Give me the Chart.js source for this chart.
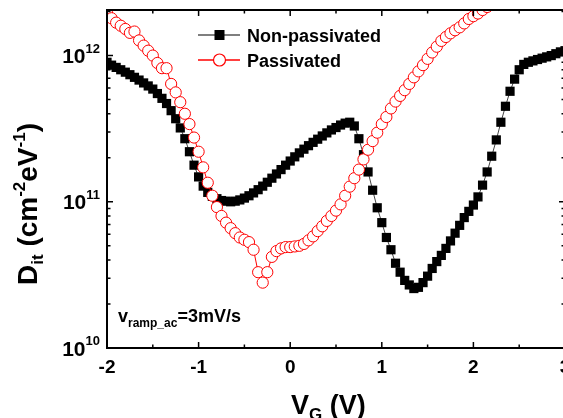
<!DOCTYPE html>
<html>
<head>
<meta charset="utf-8">
<script src="https://cdn.jsdelivr.net/npm/chart.js@4"></script>
<style>
  html, body { margin: 0; padding: 0; background: #fff; overflow: hidden; }
</style>
</head>
<body>
<canvas id="grafico" width="580" height="418"></canvas>
<script>
// gate voltage (V)
const vg = [
  -2.00, -1.95, -1.90, -1.85, -1.80, -1.75, -1.70, -1.65, -1.60, -1.55,
  -1.50, -1.45, -1.40, -1.35, -1.30, -1.25, -1.20, -1.15, -1.10, -1.05,
  -1.00, -0.95, -0.90, -0.85, -0.80, -0.75, -0.70, -0.65, -0.60, -0.55,
  -0.50, -0.45, -0.40, -0.35, -0.30, -0.25, -0.20, -0.15, -0.10, -0.05,
   0.00,  0.05,  0.10,  0.15,  0.20,  0.25,  0.30,  0.35,  0.40,  0.45,
   0.50,  0.55,  0.60,  0.65,  0.70,  0.75,  0.80,  0.85,  0.90,  0.95,
   1.00,  1.05,  1.10,  1.15,  1.20,  1.25,  1.30,  1.35,  1.40,  1.45,
   1.50,  1.55,  1.60,  1.65,  1.70,  1.75,  1.80,  1.85,  1.90,  1.95,
   2.00,  2.05,  2.10,  2.15,  2.20,  2.25,  2.30,  2.35,  2.40,  2.45,
   2.50,  2.55,  2.60,  2.65,  2.70,  2.75,  2.80,  2.85,  2.90,  2.95,
   3.00
];

// Dit (cm^-2 eV^-1), non-passivated
const ditNonPassivated = [
  9.0e11, 8.6e11, 8.3e11, 8.0e11, 7.7e11, 7.4e11, 7.1e11, 6.8e11, 6.5e11, 6.2e11,
  5.9e11, 5.5e11, 5.1e11, 4.7e11, 4.2e11, 3.7e11, 3.2e11, 2.7e11, 2.2e11, 1.78e11,
  1.48e11, 1.28e11, 1.16e11, 1.09e11, 1.05e11, 1.02e11, 1.01e11, 1.0e11, 1.01e11, 1.03e11,
  1.06e11, 1.1e11, 1.15e11, 1.21e11, 1.28e11, 1.36e11, 1.45e11, 1.55e11, 1.66e11, 1.78e11,
  1.9e11, 2.03e11, 2.16e11, 2.29e11, 2.42e11, 2.55e11, 2.68e11, 2.82e11, 2.96e11, 3.1e11,
  3.22e11, 3.35e11, 3.45e11, 3.5e11, 3.3e11, 2.7e11, 2.1e11, 1.6e11, 1.2e11, 9.1e10,
  7.2e10, 5.7e10, 4.7e10, 3.8e10, 3.3e10, 2.9e10, 2.7e10, 2.55e10, 2.6e10, 2.8e10,
  3.1e10, 3.5e10, 3.9e10, 4.3e10, 4.8e10, 5.4e10, 6.1e10, 6.9e10, 7.8e10, 8.6e10,
  9.5e10, 1.08e11, 1.3e11, 1.6e11, 2.05e11, 2.65e11, 3.5e11, 4.5e11, 5.7e11, 6.9e11,
  8.0e11, 8.7e11, 9.0e11, 9.2e11, 9.4e11, 9.6e11, 9.8e11, 1.0e12, 1.03e12, 1.06e12,
  1.08e12
];

// Dit (cm^-2 eV^-1), passivated (goes off the top after ~2.1 V)
const ditPassivated = [
  1.95e12, 1.8e12, 1.68e12, 1.6e12, 1.52e12, 1.43e12, 1.46e12, 1.27e12, 1.17e12, 1.08e12,
  1.0e12, 8.9e11, 8.2e11, 8.2e11, 6.4e11, 5.6e11, 4.8e11, 4.0e11, 3.4e11, 2.75e11,
  2.2e11, 1.72e11, 1.35e11, 1.1e11, 9.2e10, 8.0e10, 7.2e10, 6.6e10, 6.1e10, 5.7e10,
  5.5e10, 5.3e10, 4.7e10, 3.3e10, 2.8e10, 3.3e10, 4.2e10, 4.6e10, 4.8e10, 4.9e10,
  4.9e10, 4.95e10, 5.0e10, 5.15e10, 5.45e10, 5.8e10, 6.3e10, 6.8e10, 7.4e10, 8.0e10,
  8.7e10, 9.6e10, 1.1e11, 1.27e11, 1.45e11, 1.66e11, 1.95e11, 2.27e11, 2.6e11, 2.97e11,
  3.4e11, 3.8e11, 4.35e11, 4.85e11, 5.3e11, 5.8e11, 6.4e11, 7.1e11, 7.8e11, 8.6e11,
  9.5e11, 1.05e12, 1.15e12, 1.26e12, 1.34e12, 1.42e12, 1.49e12, 1.56e12, 1.66e12, 1.78e12,
  1.86e12, 1.94e12, 2.05e12, 2.15e12, 2.25e12
];

const seriesNames = ['Non-passivated', 'Passivated'];
const xTicks = [-2, -1, 0, 1, 2, 3];
const yMajor = [1e10, 1e11, 1e12];

const FONT = '"Liberation Sans", Arial, sans-serif';

function pares(xs, ys) {
  return ys.map((v, i) => ({ x: xs[i], y: v }));
}

// texto com partes sub/sobrescritas: [texto, tamanho, deslocamento]
function desenhaPartes(ctx, partes, x, y) {
  let cx = x;
  for (const [t, size, dy] of partes) {
    ctx.font = 'bold ' + size + 'px ' + FONT;
    ctx.fillText(t, cx, y + dy);
    cx += ctx.measureText(t).width;
  }
}

const moldura = {
  id: 'moldura',
  afterDraw(chart) {
    const { ctx, chartArea: a, scales: { x, y } } = chart;
    ctx.save();
    ctx.strokeStyle = '#000';
    ctx.fillStyle = '#000';

    // ticks (inward, all four sides)
    ctx.lineWidth = 1.5;
    ctx.beginPath();
    for (let v = -2; v <= 3.001; v += 0.5) {
      const px = x.getPixelForValue(v);
      const len = Math.abs(v - Math.round(v)) < 0.01 ? 6 : 3.5;
      ctx.moveTo(px, a.bottom); ctx.lineTo(px, a.bottom - len);
      ctx.moveTo(px, a.top); ctx.lineTo(px, a.top + len);
    }
    for (let e = 10; e <= 12; e++) {
      for (let k = 1; k <= 9; k++) {
        const v = k * Math.pow(10, e);
        if (v > y.max) break;
        const py = y.getPixelForValue(v);
        const len = k === 1 ? 6 : 3.5;
        ctx.moveTo(a.left, py); ctx.lineTo(a.left + len, py);
        ctx.moveTo(a.right, py); ctx.lineTo(a.right - len, py);
      }
    }
    ctx.stroke();

    // frame
    ctx.lineWidth = 2;
    ctx.strokeRect(a.left, a.top, a.right - a.left, a.bottom - a.top);

    // y tick labels 10^n
    ctx.textBaseline = 'alphabetic';
    ctx.textAlign = 'left';
    yMajor.forEach(v => {
      const py = y.getPixelForValue(v);
      const ex = String(Math.round(Math.log10(v)));
      ctx.font = 'bold 13px ' + FONT;
      const we = ctx.measureText(ex).width;
      ctx.font = 'bold 21px ' + FONT;
      const wb = ctx.measureText('10').width;
      const right = a.left - 7;
      ctx.fillText('10', right - we - wb, py + 7.5);
      ctx.font = 'bold 13px ' + FONT;
      ctx.fillText(ex, right - we, py - 3);
    });

    // y title
    ctx.save();
    ctx.translate(37, 285);
    ctx.rotate(-Math.PI / 2);
    desenhaPartes(ctx, [
      ['D', 28, 0], ['it', 17, 6], [' (cm', 28, 0], ['-2', 17, -12],
      ['eV', 28, 0], ['-1', 17, -12], [')', 28, 0]
    ], 0, 0);
    ctx.restore();

    // x title
    desenhaPartes(ctx, [['V', 27, 0], ['G', 17, 6], [' (V)', 27, 0]], 291, 414);

    // note
    desenhaPartes(ctx, [['v', 18, 0], ['ramp_ac', 12, 5], ['=3mV/s', 18, 0]], 118, 322);

    // legend
    const linhas = [
      { y: 35, cor: '#555', nome: seriesNames[0] },
      { y: 60, cor: '#ff0000', nome: seriesNames[1] }
    ];
    linhas.forEach((l, i) => {
      ctx.strokeStyle = l.cor;
      ctx.lineWidth = 1.5;
      ctx.beginPath();
      ctx.moveTo(198, l.y); ctx.lineTo(240, l.y);
      ctx.stroke();
      if (i === 0) {
        ctx.fillStyle = '#000';
        ctx.fillRect(214.5, l.y - 5, 10, 10);
      } else {
        ctx.fillStyle = '#fff';
        ctx.strokeStyle = '#ff0000';
        ctx.lineWidth = 1.2;
        ctx.beginPath();
        ctx.arc(219.5, l.y, 6, 0, Math.PI * 2);
        ctx.fill();
        ctx.stroke();
      }
      ctx.fillStyle = '#000';
      ctx.font = 'bold 18px ' + FONT;
      ctx.fillText(l.nome, 247, l.y + 7);
    });

    ctx.restore();
  }
};

const grafico = new Chart(document.getElementById('grafico').getContext('2d'), {
  type: 'scatter',
  data: {
    datasets: [{
      label: seriesNames[0],
      data: pares(vg, ditNonPassivated),
      showLine: true,
      borderColor: '#444',
      borderWidth: 1,
      pointStyle: 'rect',
      pointRadius: 6.5,
      pointBackgroundColor: '#000',
      pointBorderColor: '#000',
      pointBorderWidth: 0,
      order: 2
    }, {
      label: seriesNames[1],
      data: pares(vg, ditPassivated),
      showLine: true,
      borderColor: '#ff0000',
      borderWidth: 1,
      pointStyle: 'circle',
      pointRadius: 5.6,
      pointBackgroundColor: '#fff',
      pointBorderColor: '#ff0000',
      pointBorderWidth: 1,
      order: 1
    }]
  },
  options: {
    responsive: false,
    animation: false,
    layout: { padding: { top: 10, right: 15, left: 0, bottom: 0 } },
    plugins: {
      legend: { display: false },
      tooltip: { enabled: false },
      title: { display: false }
    },
    scales: {
      x: {
        type: 'linear',
        min: -2,
        max: 3,
        afterBuildTicks: s => { s.ticks = xTicks.map(v => ({ value: v })); },
        afterFit: s => { s.height = 70; },
        grid: { display: false, drawTicks: false },
        border: { display: false },
        ticks: {
          color: '#000',
          padding: 8,
          font: { family: FONT, size: 19, weight: 'bold' }
        }
      },
      y: {
        type: 'logarithmic',
        min: 1e10,
        max: 2.05e12,
        afterFit: s => { s.width = 107; },
        grid: { display: false, drawTicks: false },
        border: { display: false },
        ticks: { display: false }
      }
    }
  },
  plugins: [moldura]
});
</script>
</body>
</html>
